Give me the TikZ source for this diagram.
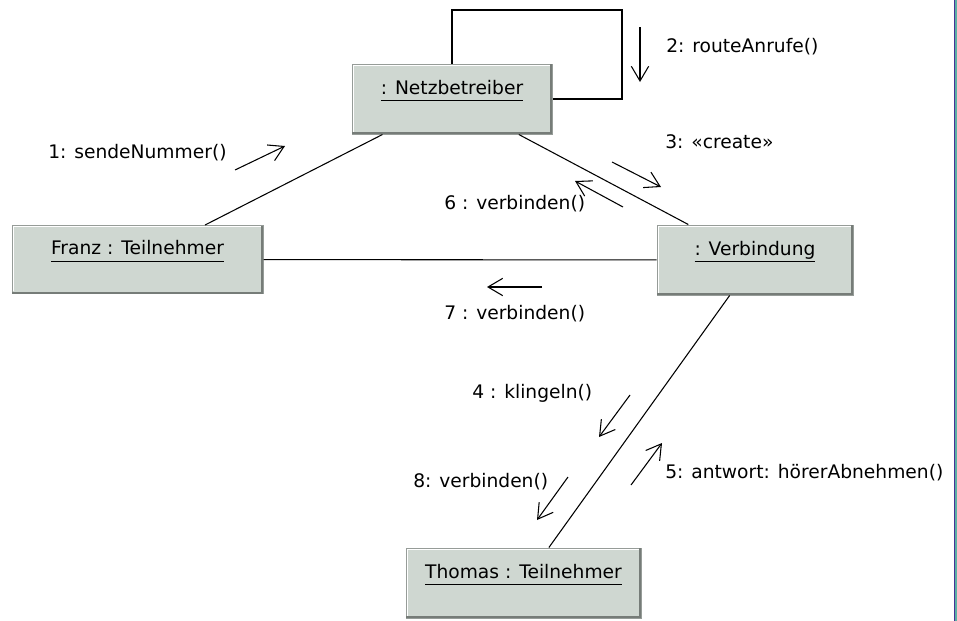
\documentclass[tikz,border=0pt]{standalone}
\usepackage{fontspec}
\setmainfont{DejaVu Sans}
\usetikzlibrary{arrows.meta}
\definecolor{objfill}{RGB}{207,215,209}
\definecolor{objedge}{RGB}{150,156,152}
\definecolor{objshade}{RGB}{118,124,120}
\definecolor{winblue}{RGB}{70,50,150}
\definecolor{winteal}{RGB}{90,175,165}
\newcommand{\objname}[1]{\setbox0\hbox{#1}\rlap{\copy0}\rule[-5.6pt]{\wd0}{1.1pt}}
\tikzset{
	object/.style={
	rectangle, fill=objfill, draw=objedge, line width=0.75pt,
	inner sep=0pt, text height=10pt, text depth=17.5pt
	},
	link/.style={draw, line width=0.8pt, black},
	msg/.style={draw, line width=0.8pt, black, -{Straight Barb[length=11pt,width=13pt]}},
	msglabel/.style={anchor=base west, inner sep=0pt},
}
\begin{document}
\begin{tikzpicture}[x=0.75pt, y=-0.75pt, font=\fontsize{14pt}{17pt}\selectfont]
			\useasboundingbox (0,0) rectangle (957,621);
			\fill[white] (0,0) rectangle (957,621);
			\tikzstyle{shade}=[objshade, line width=1.5pt]
			\tikzstyle{light}=[white, line width=0.75pt]
			
			\node[object, minimum width=150pt, minimum height=52.5pt] (netz) at (452,99) {\objname{: Netzbetreiber}};
			\node[object, minimum width=188.25pt, minimum height=51pt] (franz) at (137.5,259.5) {\objname{Franz : Teilnehmer}};
			\node[object, minimum width=147pt, minimum height=52.5pt] (verb) at (755,260) {\objname{: Verbindung}};
			\node[object, minimum width=176.25pt, minimum height=52.5pt] (thomas) at (523.5,583) {\objname{Thomas : Teilnehmer}};
			\foreach \n in {netz,franz,verb,thomas}{
				\path[draw,light] ([xshift=1.2pt,yshift=2pt]\n.south west) |- ([xshift=-2pt,yshift=-1.2pt]\n.north east);
				\path[draw,shade] ([xshift=0.4pt,yshift=1.1pt]\n.south west) -- ([xshift=-1.1pt,yshift=1.1pt]\n.south east) -- ([xshift=-1.1pt,yshift=-0.4pt]\n.north east);
			}
			
			\coordinate (loop) at (622,10);
			\path[link] (netz.north) |- (loop) |- (netz.east);
			\path[link] (netz) -- (franz);
			\path[link] (netz) -- (verb);
			\path[link] (franz) -- (verb);
			\path[link] (verb) -- (thomas);
			
			\coordinate (a1s) at (235,170); \coordinate (a1e) at (285,146);
			\coordinate (a2s) at (640,27);  \coordinate (a2e) at (640,82);
			\coordinate (a3s) at (612,162); \coordinate (a3e) at (661,187);
			\coordinate (a4s) at (630,395); \coordinate (a4e) at (599,437);
			\coordinate (a5s) at (631,485); \coordinate (a5e) at (662,443);
			\coordinate (a6s) at (623,207); \coordinate (a6e) at (575,181);
			\coordinate (a7s) at (542,287); \coordinate (a7e) at (487,287);
			\coordinate (a8s) at (568,477); \coordinate (a8e) at (537,520);
			\foreach \i in {1,...,8}
				\path[msg] (a\i s) -- (a\i e);
			
			\node[msglabel] (m1) at (48,158) {1: sendeNummer()};
			\node[msglabel] (m2) at (666,52) {2: routeAnrufe()};
			\node[msglabel] (m3) at (665,148) {3: «create»};
			\node[msglabel] (m4) at (472,398) {4 : klingeln()};
			\node[msglabel] (m5) at (665,478) {5: antwort: hörerAbnehmen()};
			\node[msglabel] (m6) at (444,209) {6 : verbinden()};
			\node[msglabel] (m7) at (444,319) {7 : verbinden()};
			\node[msglabel] (m8) at (413,487) {8: verbinden()};
			
			\fill[winteal] (955,0) rectangle (957,621);
			\path[draw,winblue,line width=0.9pt] (954.3,0) -- (954.3,621);
		\end{tikzpicture}
\end{document}
